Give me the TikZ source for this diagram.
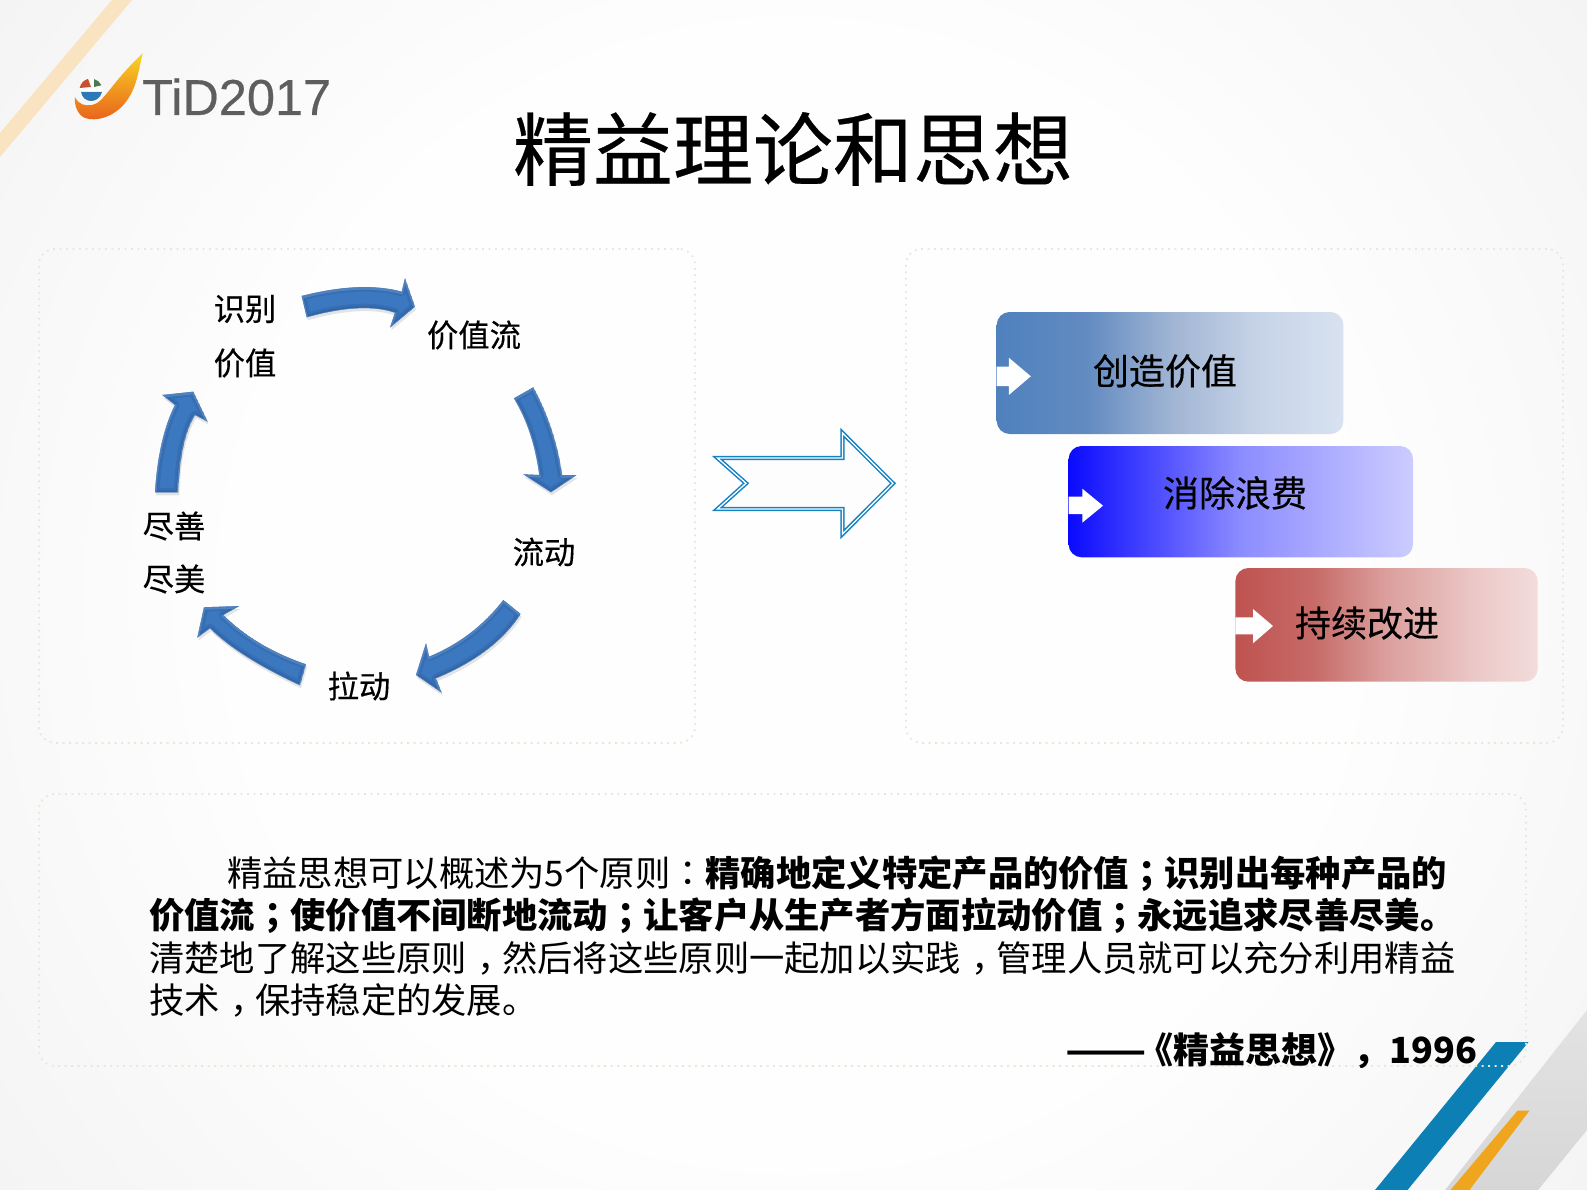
\documentclass[tikz,border=0pt]{standalone}
\usepackage{fontspec}
\setmainfont{Noto Sans CJK SC}
\newfontfamily\latinsans[FakeBold=0.4]{Liberation Sans}
\newfontfamily\heavy[FakeBold=0.35]{Noto Sans CJK SC}
\newfontfamily\tcpunct{Noto Sans CJK TC}
\newcommand\cp[1]{{\tcpunct #1}}
\newcommand\cm{\kern.3em，\kern-.3em}
\usetikzlibrary{calc}
\definecolor{bgin}{HTML}{FEFEFE}
\definecolor{bgout}{HTML}{F4F4F4}
\definecolor{panelline}{HTML}{E8E8D6}
\definecolor{arrowblue}{HTML}{3C78C0}
\definecolor{arrowdark}{HTML}{234F8A}
\definecolor{arrowlight}{HTML}{7FB0E6}
\definecolor{stripeorange}{HTML}{EFA51E}
\definecolor{stripeblue}{HTML}{0C7FB5}
\definecolor{stripetop}{HTML}{F9E3C0}
\definecolor{flametop}{HTML}{F9D423}
\definecolor{flamebot}{HTML}{E8601C}
\definecolor{ballblue}{HTML}{2F78B8}
\definecolor{ballred}{HTML}{C8502E}
\definecolor{ballgreen}{HTML}{4A7A50}
\definecolor{logogrey}{HTML}{5E5E5E}
\definecolor{hollowfill}{HTML}{FDFDFD}
\definecolor{hollowline}{HTML}{1482C4}
\definecolor{boxa1}{HTML}{4F81BD}\definecolor{boxa2}{HTML}{628BC1}\definecolor{boxa3}{HTML}{9FB4D3}\definecolor{boxa4}{HTML}{C5D2E6}\definecolor{boxa5}{HTML}{D8E2F0}
\definecolor{boxb1}{HTML}{0A0AFF}\definecolor{boxb3}{HTML}{8C8CFF}\definecolor{boxb5}{HTML}{CCCCFF}
\definecolor{boxc1}{HTML}{BE5350}\definecolor{boxc2}{HTML}{C76B68}\definecolor{boxc3}{HTML}{DB9F9D}\definecolor{boxc4}{HTML}{EBC9C8}\definecolor{boxc5}{HTML}{F2DCDB}
\pgfdeclareradialshading{bgshade}{\pgfpoint{0bp}{0bp}}{color(0bp)=(bgin);color(14bp)=(bgin);color(25bp)=(bgout);color(50bp)=(bgout)}
\pgfdeclarehorizontalshading{boxa}{100bp}{color(0bp)=(boxa1);color(25bp)=(boxa1);color(38bp)=(boxa2);color(50bp)=(boxa3);color(62bp)=(boxa4);color(75bp)=(boxa5);color(100bp)=(boxa5)}
\pgfdeclarehorizontalshading{boxb}{100bp}{color(0bp)=(boxb1);color(25bp)=(boxb1);color(50bp)=(boxb3);color(75bp)=(boxb5);color(100bp)=(boxb5)}
\pgfdeclarehorizontalshading{boxc}{100bp}{color(0bp)=(boxc1);color(25bp)=(boxc1);color(38bp)=(boxc2);color(50bp)=(boxc3);color(65bp)=(boxc4);color(75bp)=(boxc5);color(100bp)=(boxc5)}
\tikzset{
  panel/.style={draw=panelline,line width=1.8pt,dash pattern=on 1.8pt off 4.7pt,rounded corners=16pt,inner sep=0pt,minimum width=#1},
  cyc/.style={font=\heavy\fontsize{31.3}{31.3}\selectfont,text=black,inner sep=0pt},
  boxlabel/.style={font=\heavy\fontsize{36}{36}\selectfont,text=black,inner sep=0pt},
  whitearrow/.style={fill=white,draw=none},
}
\newcommand\bevelarrow[1]{%
  \fill[black,opacity=.10,shift={(1pt,-3pt)}] #1;
  \begin{scope}
    \clip #1;
    \fill[arrowblue] #1;
    \draw[arrowdark,opacity=.22,line width=9pt,line join=round] #1;
    \draw[arrowdark,opacity=.35,line width=4pt,line join=round] #1;
    \draw[arrowlight,opacity=.40,line width=3pt,shift={(0pt,-1pt)}] #1;
  \end{scope}}
\begin{document}
\begin{tikzpicture}[x=1pt,y=-1pt]
\useasboundingbox (0,0) rectangle (1587,1190);
% background
\shade[shading=bgshade] (-200,-400) rectangle (1787,1590);
% corner stripes
\fill[stripetop] (112,0) -- (132,0) -- (0,157) -- (0,133) -- cycle;
\shade[bottom color=black!16,top color=black!11] (1587,1010) -- (1587,1130) -- (1538,1190) -- (1445,1190) -- cycle;
\fill[stripeorange] (1517.5,1110.7) -- (1529.5,1110.7) -- (1469.4,1190) -- (1450.5,1190) -- cycle;
\fill[stripeblue] (1496,1042) -- (1528.5,1042) -- (1407.5,1190) -- (1375,1190) -- cycle;
% panels
\node[panel=656pt,minimum height=494pt,anchor=north west] (leftpanel) at (38,248) {};
\node[panel=657pt,minimum height=494pt,anchor=north west] (rightpanel) at (905,248) {};
\node[panel=1487pt,minimum height=272pt,anchor=north west] (textpanel) at (38,793) {};
% logo
\shade[top color=flametop,bottom color=flamebot] (142.7,53.3) .. controls (138,72) and (137,88) .. (125,103) .. controls (114,117) and (96,122) .. (85,118) .. controls (78,115) and (74,106) .. (75,97) .. controls (79,105) and (85,106) .. (92,105) .. controls (104,103) and (110,84) .. (142.7,53.3) -- cycle;
\fill[white] (91,90) circle (11.5);
\fill[ballblue] (81,92) .. controls (83,104) and (99,104) .. (102,92) -- cycle;
\fill[ballred] (79.7,88) arc (190:255:11.5) -- (91,87) -- cycle;
\fill[ballgreen] (94,79) arc (285:335:11.5) -- (94,87) -- cycle;
\node[anchor=base west,inner sep=0pt,text=logogrey] (logotext) at (142,115) {\latinsans\fontsize{50.5}{50.5}\selectfont TiD2017};
% title
\node[inner sep=0pt,text=black] (title) at (793,149) {\heavy\fontsize{80}{80}\selectfont 精益理论和思想};
% cycle
\node[cyc] (lblA) at (245,309) {识别};
\node[cyc] (lblA2) at (245,363) {价值};
\node[cyc] (lblB) at (474,335) {价值流};
\node[cyc] (lblC) at (544,552) {流动};
\node[cyc] (lblD) at (359,686) {拉动};
\node[cyc] (lblE) at (174,526) {尽善};
\node[cyc] (lblE2) at (174,579) {尽美};
\bevelarrow{(301.7,296) .. controls (341.7,285.8) and (375,284.4) .. (401.7,291.7) -- (405,278.3) -- (415,306.7) -- (390,327.7) -- (395,312.7) .. controls (373.3,305.3) and (343.9,306.8) .. (306.7,317.3) -- cycle}
\bevelarrow{(533.3,387.3) .. controls (548.3,415) and (557.8,444.2) .. (562,475) -- (576.7,475) -- (551,492.3) -- (523.3,474.3) -- (539.3,475) .. controls (535.3,445) and (526.9,419.4) .. (514,398.3) -- cycle}
\bevelarrow{(520.7,614) .. controls (503.6,640.6) and (475.4,662) .. (436,678.3) -- (441.7,692.7) -- (416,675) -- (426,643.3) -- (429,656.7) .. controls (458.9,644.4) and (483.7,625.5) .. (503.3,600) -- cycle}
\bevelarrow{(300,685.3) .. controls (258.9,666.2) and (228.9,647.2) .. (210,628.3) -- (197.3,637.7) -- (204,607.3) -- (239.3,606) -- (223.3,615) .. controls (244.7,636.3) and (272.2,652.7) .. (306,664.3) -- cycle}
\bevelarrow{(155,492.3) .. controls (157.3,456.1) and (163.9,427) .. (175,405) -- (162.3,395) -- (193.3,391.7) -- (207.7,421.7) -- (195,415) .. controls (185,431.5) and (179.4,457.3) .. (178.3,492.3) -- cycle}
% hollow arrow
\filldraw[fill=hollowfill,draw=hollowline,line width=1.5pt,double=white,double distance=1.3pt,miter limit=6] (717.5,458) -- (842.5,458) -- (842.5,433) -- (893,483.3) -- (842.5,534) -- (842.5,509) -- (717.5,509) -- (746,483.3) -- cycle;
% boxes
\path[shading=boxa,rounded corners=13pt] (996.7,312) rectangle (1343.4,434);
\path[shading=boxb,rounded corners=13pt] (1068.6,446) rectangle (1413,557.3);
\path[shading=boxc,rounded corners=13pt] (1235.4,568) rectangle (1537.6,681.7);
\fill[whitearrow] (996.7,366.7) -- (1008.8,366.7) -- (1008.8,357.7) -- (1030.8,376.3) -- (1008.8,395) -- (1008.8,386) -- (996.7,386) -- cycle;
\fill[whitearrow] (1068.6,496.7) -- (1082.3,496.7) -- (1082.3,488.7) -- (1103,505.7) -- (1082.3,522.7) -- (1082.3,514) -- (1068.6,514) -- cycle;
\fill[whitearrow] (1235.4,617.3) -- (1253,617.3) -- (1253,609) -- (1273,626) -- (1253,643.3) -- (1253,634.3) -- (1235.4,634.3) -- cycle;
\node[boxlabel] (boxA) at (1165,371) {创造价值};
\node[boxlabel] (boxB) at (1235,493) {消除浪费};
\node[boxlabel] (boxC) at (1367,623) {持续改进};
% paragraph
\node[anchor=north west,inner sep=0pt,align=left,text=black,font=\fontsize{35.3}{42.4}\selectfont] (para) at (149,855.5) {\hspace*{78pt}精益思想可以概述为5个原则\cp{：}\textbf{精确地定义特定产品的价值\cp{；}识别出每种产品的}\\\textbf{价值流\cp{；}使价值不间断地流动\cp{；}让客户从生产者方面拉动价值\cp{；}永远追求尽善尽美。}\\清楚地了解这些原则\cm 然后将这些原则一起加以实践\cm 管理人员就可以充分利用精益\\技术\cm 保持稳定的发展。};
\begin{scope}
\clip (1040,1020) rectangle (1500,1067);
\node[anchor=base west,inner sep=0pt,text=black,font=\fontsize{36}{36}\selectfont\bfseries] (cite) at (1065,1063) {\scalebox{1.32}[1]{——}\kern-9pt《精益思想》，1996};
\end{scope}
\end{tikzpicture}
\end{document}
